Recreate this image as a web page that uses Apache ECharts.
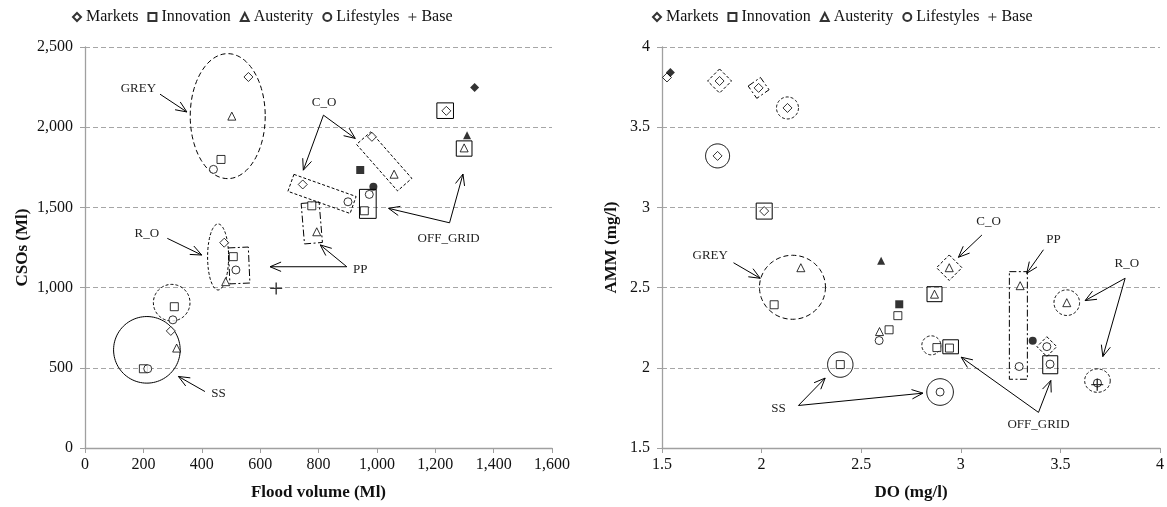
<!DOCTYPE html>
<html><head><meta charset="utf-8">
<script src="https://cdn.jsdelivr.net/npm/echarts@6/dist/echarts.min.js"></script>
<style>html,body{margin:0;padding:0;background:#fff}#c{width:1167px;height:507px}</style>
</head><body><div id="c"></div>
<script>
// ---------- data: left chart (Flood volume vs CSOs) ----------
const floodTicks = ['0','200','400','600','800','1,000','1,200','1,400','1,600'];
const csoTicks = ['0','500','1,000','1,500','2,000','2,500'];
const floodMarkets    = [[560,2313],[746,1643],[983,1940],[1238,2102],[477,1280],[294,730]];
const floodInnovation = [[466,1799],[777,1510],[957,1479],[508,1193],[306,881],[200,494]];
const floodAusterity  = [[503,2069],[794,1348],[1059,1707],[1299,1871],[482,1037],[314,623]];
const floodLifestyles = [[440,1737],[901,1535],[974,1581],[517,1110],[301,799],[215,494]];
const floodBase       = [[655,995]];
const floodMarketsSolid    = [[1335,2247]];
const floodInnovationSolid = [[943,1733]];
const floodAusteritySolid  = [[1309,1950]];
const floodLifestylesSolid = [[988,1628]];

// ---------- data: right chart (DO vs AMM) ----------
const doTicks = ['1.5','2','2.5','3','3.5','4'];
const ammTicks = ['1.5','2','2.5','3','3.5','4'];
const doMarkets    = [[1.525,3.810],[1.789,3.788],[1.985,3.745],[2.130,3.620],[1.779,3.321],[2.013,2.977]];
const doInnovation = [[2.063,2.393],[2.395,2.020],[2.684,2.325],[2.640,2.237],[2.880,2.126],[2.943,2.123]];
const doAusterity  = [[2.197,2.624],[2.592,2.226],[2.942,2.624],[2.868,2.459],[3.298,2.512],[3.532,2.406]];
const doLifestyles = [[2.590,2.170],[2.896,1.849],[3.293,2.008],[3.432,2.132],[3.448,2.023],[3.686,1.905]];
const doBase       = [[3.685,1.895]];
const doMarketsSolid    = [[1.542,3.841]];
const doInnovationSolid = [[2.691,2.396]];
const doAusteritySolid  = [[2.600,2.668]];
const doLifestylesSolid = [[3.361,2.168]];

// ---------- annotations (anchored in data coordinates) ----------
const leftRings = [
  ['ellipse', 489, 2069, 37.5, 62.5, 0, 'long'],
  ['rect', 812, 1584, 66, 18, 19.6, 'short'],
  ['rect', 1025, 1787, 62, 19, 48.6, 'short'],
  ['rect', 969, 1522, 16.7, 29, 0, 'solid'],
  ['rect', 777, 1403, 18, 40.6, -4.7, 'dashdot'],
  ['rect', 528, 1138, 20, 36, -2.5, 'dashdot'],
  ['ellipse', 456, 1191, 10.5, 33, 0, 'short'],
  ['ellipse', 212, 612, 33.3, 33.3, 0, 'solid'],
  ['ellipse', 297, 906, 18.3, 18.3, 0, 'short'],
  ['rect', 1234, 2103, 16.6, 15.6, 0, 'solid'],
  ['rect', 1299, 1867, 15.7, 15.3, 0, 'solid']
];
const leftArrows = [
  [257,2206,349,2095],
  [817,2075,748,1732],[817,2075,926,1930],
  [282,1307,400,1203],
  [897,1130,634,1130],[897,1130,806,1266],
  [411,352,320,446],
  [1249,1404,1040,1494],[1249,1404,1295,1708]
];
const leftNotes = [
  [183,2241,'GREY'],[819,2151,'C_O'],[212,1338,'R_O'],
  [943,1114,'PP'],[457,338,'SS'],[1246,1307,'OFF_GRID']
];
const rightRings = [
  ['rect', 1.789, 3.788, 17, 17, 45, 'short'],
  ['rect', 1.985, 3.745, 15, 15, -35, 'dashdot'],
  ['ellipse', 2.130, 3.620, 11, 11, 0, 'short'],
  ['ellipse', 1.779, 3.321, 12, 12, 0, 'solid'],
  ['rect', 2.013, 2.977, 16, 16, 0, 'solid'],
  ['ellipse', 2.155, 2.502, 33, 32, 0, 'long'],
  ['ellipse', 2.395, 2.020, 12.7, 12.7, 0, 'solid'],
  ['rect', 2.942, 2.624, 18, 18, 45, 'short'],
  ['rect', 2.868, 2.459, 15, 15, 0, 'solid'],
  ['ellipse', 2.852, 2.140, 9.5, 9.5, 0, 'short'],
  ['rect', 2.949, 2.131, 15.6, 14, 0, 'solid'],
  ['ellipse', 2.896, 1.849, 13.3, 13.3, 0, 'solid'],
  ['rect', 3.289, 2.264, 18, 107.6, 0, 'dashdot'],
  ['rect', 3.432, 2.132, 14, 14, 45, 'short'],
  ['rect', 3.449, 2.019, 15, 18, 0, 'solid'],
  ['ellipse', 3.532, 2.406, 12.8, 12.8, 0, 'short'],
  ['ellipse', 3.686, 1.920, 12.8, 11.7, 0, 'short']
];
const rightArrows = [
  [1.859,2.655,1.993,2.558],
  [2.185,1.765,2.319,1.936],[2.185,1.765,2.810,1.842],
  [3.106,2.828,2.988,2.689],
  [3.415,2.736,3.331,2.589],
  [3.825,2.558,3.624,2.419],[3.825,2.558,3.713,2.070],
  [3.390,1.722,3.002,2.066],[3.390,1.722,3.452,1.921]
];
const rightNotes = [
  [1.742,2.697,'GREY'],[2.085,1.743,'SS'],[3.139,2.911,'C_O'],
  [3.465,2.797,'PP'],[3.833,2.647,'R_O'],[3.390,1.645,'OFF_GRID']
];

// ---------- styling ----------
const FONT = '"Liberation Serif","Times New Roman",serif';
const DASH = { solid: null, long: [5,3], short: [3,2], dashdot: [7,2.5,2,2.5] };
const CROSS = 'path://M0,5.3H12V6.7H0Z M5.3,0H6.7V12H5.3Z';
const hollow = { color:'#fff', borderColor:'#000', borderWidth:1 };
const filled = { color:'#000' };
const sym = { Markets:'diamond', Innovation:'rect', Austerity:'triangle', Lifestyles:'circle', Base:CROSS };
const symSize = { Markets:9, Innovation:8, Austerity:8, Lifestyles:8, Base:12 };

function ringRender(list){
  return function(params, api){
    const s = list[params.dataIndex];
    const c = api.coord([s[1], s[2]]);
    const w = s[3], h = s[4], r = s[5]*Math.PI/180;
    let pts = [];
    if (s[0] === 'ellipse') {
      for (let i=0;i<96;i++){ const t=i/96*2*Math.PI; pts.push([w*Math.cos(t), h*Math.sin(t)]); }
    } else {
      pts = [[-w/2,-h/2],[w/2,-h/2],[w/2,h/2],[-w/2,h/2]];
    }
    pts = pts.map(p => [c[0] + p[0]*Math.cos(r) - p[1]*Math.sin(r), c[1] + p[0]*Math.sin(r) + p[1]*Math.cos(r)]);
    return { type:'polygon', shape:{points:pts}, style:{fill:'none', stroke:'#000', lineWidth:1, lineDash:DASH[s[6]]} };
  };
}
function arrowRender(list){
  return function(params, api){
    const a = list[params.dataIndex];
    const p1 = api.coord([a[0],a[1]]), p2 = api.coord([a[2],a[3]]);
    const ang = Math.atan2(p2[1]-p1[1], p2[0]-p1[0]);
    const L = 12, sp = 0.4;
    const h1 = [p2[0]-L*Math.cos(ang-sp), p2[1]-L*Math.sin(ang-sp)];
    const h2 = [p2[0]-L*Math.cos(ang+sp), p2[1]-L*Math.sin(ang+sp)];
    return { type:'group', children:[
      { type:'line', shape:{x1:p1[0],y1:p1[1],x2:p2[0],y2:p2[1]}, style:{stroke:'#000', lineWidth:1} },
      { type:'polyline', shape:{points:[h1,p2,h2]}, style:{stroke:'#000', lineWidth:1, fill:'none'} }
    ]};
  };
}
function noteRender(list){
  return function(params, api){
    const n = list[params.dataIndex];
    const c = api.coord([n[0], n[1]]);
    return { type:'text', x:c[0], y:c[1], style:{ text:n[2], font:'13px '+FONT, fill:'#222',
      align:'center', verticalAlign:'middle', textAlign:'center', textVerticalAlign:'middle' } };
  };
}

function scatter(name, data, gi, solid){
  return { type:'scatter', name: solid ? name+' (solid)' : name, xAxisIndex:gi, yAxisIndex:gi, data:data,
    symbol: sym[name], symbolSize: symSize[name], z:5,
    itemStyle: (solid || name==='Base') ? filled : hollow, emphasis:{disabled:true} };
}
function annSeries(gi, rings, arrows, notes){
  return [
    { type:'custom', xAxisIndex:gi, yAxisIndex:gi, clip:false, z:2, silent:true,
      data: rings.map(s=>[s[1],s[2]]), encode:{x:0,y:1}, renderItem: ringRender(rings) },
    { type:'custom', xAxisIndex:gi, yAxisIndex:gi, clip:false, z:2, silent:true,
      data: arrows, encode:{x:[0,2],y:[1,3]}, renderItem: arrowRender(arrows) },
    { type:'custom', xAxisIndex:gi, yAxisIndex:gi, clip:false, z:2, silent:true,
      data: notes.map(n=>[n[0],n[1]]), encode:{x:0,y:1}, renderItem: noteRender(notes) }
  ];
}

const axisCommon = {
  axisLine:{ show:true, lineStyle:{ color:'#a0a0a0', width:1.3 } },
  axisTick:{ show:true, length:5, lineStyle:{ color:'#a0a0a0', width:1 } },
  nameLocation:'middle',
  nameTextStyle:{ fontFamily:FONT, fontSize:17, fontWeight:'bold', color:'#111' }
};
const labelStyle = { fontFamily:FONT, fontSize:16, color:'#111' };
function tickFmt(ticks, min, step){ return v => ticks[Math.round((v-min)/step)] ?? ''; }

const legendData = ['Markets','Innovation','Austerity','Lifestyles','Base'].map(n=>({name:n, icon:sym[n]}));
const legendCommon = { top:4, itemWidth:8, itemHeight:8, itemGap:9, data:legendData,
  textStyle:{ fontFamily:FONT, fontSize:16, color:'#111' }, selectedMode:false };

const option = {
  animation:false,
  backgroundColor:'#fff',
  legend:[ Object.assign({left:67}, legendCommon), Object.assign({left:647}, legendCommon) ],
  grid:[
    { left:85, right:615, top:47, bottom:59 },
    { left:662, right:7, top:47, bottom:59 }
  ],
  xAxis:[
    Object.assign({}, axisCommon, { gridIndex:0, type:'value', min:0, max:1600, interval:200,
      name:'Flood volume (Ml)', nameGap:36, splitLine:{show:false},
      axisLabel:Object.assign({ margin:9, formatter:tickFmt(floodTicks,0,200) }, labelStyle) }),
    Object.assign({}, axisCommon, { gridIndex:1, type:'value', min:1.5, max:4, interval:0.5,
      name:'DO (mg/l)', nameGap:36, splitLine:{show:false},
      axisLabel:Object.assign({ margin:9, formatter:tickFmt(doTicks,1.5,0.5) }, labelStyle) })
  ],
  yAxis:[
    Object.assign({}, axisCommon, { gridIndex:0, type:'value', min:0, max:2500, interval:500,
      name:'CSOs (Ml)', nameGap:54,
      splitLine:{ show:true, lineStyle:{ color:'#a6a6a6', type:[5,3], width:1 } },
      axisLabel:Object.assign({ margin:12, formatter:tickFmt(csoTicks,0,500) }, labelStyle) }),
    Object.assign({}, axisCommon, { gridIndex:1, type:'value', min:1.5, max:4, interval:0.5,
      name:'AMM (mg/l)', nameGap:42,
      splitLine:{ show:true, lineStyle:{ color:'#a6a6a6', type:[5,3], width:1 } },
      axisLabel:Object.assign({ margin:12, formatter:tickFmt(ammTicks,1.5,0.5) }, labelStyle) })
  ],
  series:[
    scatter('Markets', floodMarkets, 0), scatter('Innovation', floodInnovation, 0),
    scatter('Austerity', floodAusterity, 0), scatter('Lifestyles', floodLifestyles, 0),
    scatter('Base', floodBase, 0),
    scatter('Markets', floodMarketsSolid, 0, true), scatter('Innovation', floodInnovationSolid, 0, true),
    scatter('Austerity', floodAusteritySolid, 0, true), scatter('Lifestyles', floodLifestylesSolid, 0, true),
    ...annSeries(0, leftRings, leftArrows, leftNotes),
    scatter('Markets', doMarkets, 1), scatter('Innovation', doInnovation, 1),
    scatter('Austerity', doAusterity, 1), scatter('Lifestyles', doLifestyles, 1),
    scatter('Base', doBase, 1),
    scatter('Markets', doMarketsSolid, 1, true), scatter('Innovation', doInnovationSolid, 1, true),
    scatter('Austerity', doAusteritySolid, 1, true), scatter('Lifestyles', doLifestylesSolid, 1, true),
    ...annSeries(1, rightRings, rightArrows, rightNotes)
  ]
};
const chart = echarts.init(document.getElementById('c'), null, { renderer:'canvas' });
chart.setOption(option);
</script></body></html>
